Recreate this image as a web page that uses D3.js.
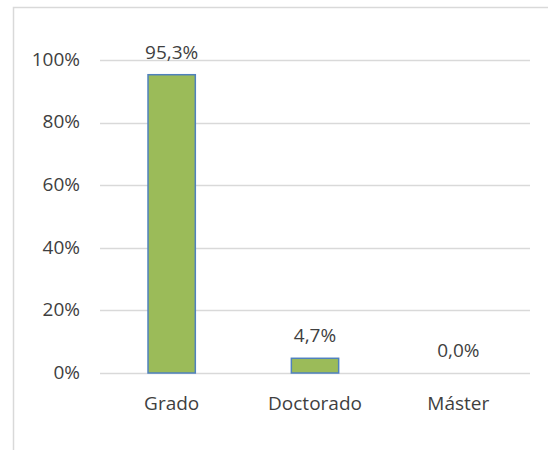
<!DOCTYPE html>
<html>
<head>
<meta charset="utf-8">
<script src="https://cdn.jsdelivr.net/npm/d3@7"></script>
<style>
  body { margin: 0; background: #fff; }
  text { font-family: "Open Sans", sans-serif; fill: #3f3f3f; }
</style>
</head>
<body>
<div id="chart"></div>
<script>
// data
var categories = ['Grado', 'Doctorado', 'Máster'];
var values = [0.953, 0.047, 0.0];
var valueLabels = ['95,3%', '4,7%', '0,0%'];
var yTicks = [0, 0.2, 0.4, 0.6, 0.8, 1.0];

var width = 548, height = 450;
var fontSize = '19px';

var svg = d3.select('#chart')
    .append('svg')
    .attr('width', width)
    .attr('height', height);

// chart area border (only left and top visible)
svg.append('rect')
    .attr('x', 13.5)
    .attr('y', 7.5)
    .attr('width', width)
    .attr('height', height)
    .attr('fill', 'none')
    .attr('stroke', '#d9d9d9')
    .attr('stroke-width', 1.5);

var x = d3.scaleBand()
    .domain(categories)
    .range([100, 530])
    .paddingInner(0.67)
    .paddingOuter(0.335);

var y = d3.scaleLinear()
    .domain([0, 1])
    .range([373, 60]);

// gridlines
svg.append('g')
    .selectAll('line')
    .data(yTicks)
    .enter().append('line')
    .attr('x1', 100)
    .attr('x2', 530)
    .attr('y1', function (d) { return Math.round(y(d)) + 0.5; })
    .attr('y2', function (d) { return Math.round(y(d)) + 0.5; })
    .attr('stroke', '#d9d9d9')
    .attr('stroke-width', 1.5);

// y tick labels
svg.append('g')
    .selectAll('text')
    .data(yTicks)
    .enter().append('text')
    .attr('x', 80)
    .attr('y', function (d) { return y(d); })
    .attr('dy', '0.3em')
    .attr('text-anchor', 'end')
    .style('font-size', fontSize)
    .text(d3.format('.0%'));

// bars
svg.append('g')
    .selectAll('rect')
    .data(values)
    .enter().append('rect')
    .attr('x', function (d, i) { return x(categories[i]); })
    .attr('y', function (d) { return y(d); })
    .attr('width', x.bandwidth())
    .attr('height', function (d) { return y(0) - y(d); })
    .attr('fill', '#9bbb59')
    .attr('stroke', '#4f81bd')
    .attr('stroke-width', 1.5)
    .style('display', function (d) { return d > 0 ? null : 'none'; });

// value labels
svg.append('g')
    .selectAll('text')
    .data(values)
    .enter().append('text')
    .attr('x', function (d, i) { return x(categories[i]) + x.bandwidth() / 2; })
    .attr('y', function (d) { return y(d) - 16; })
    .attr('text-anchor', 'middle')
    .style('font-size', fontSize)
    .text(function (d, i) { return valueLabels[i]; });

// category labels
svg.append('g')
    .selectAll('text')
    .data(categories)
    .enter().append('text')
    .attr('x', function (d) { return x(d) + x.bandwidth() / 2; })
    .attr('y', 410)
    .attr('text-anchor', 'middle')
    .style('font-size', fontSize)
    .text(function (d) { return d; });
</script>
</body>
</html>
